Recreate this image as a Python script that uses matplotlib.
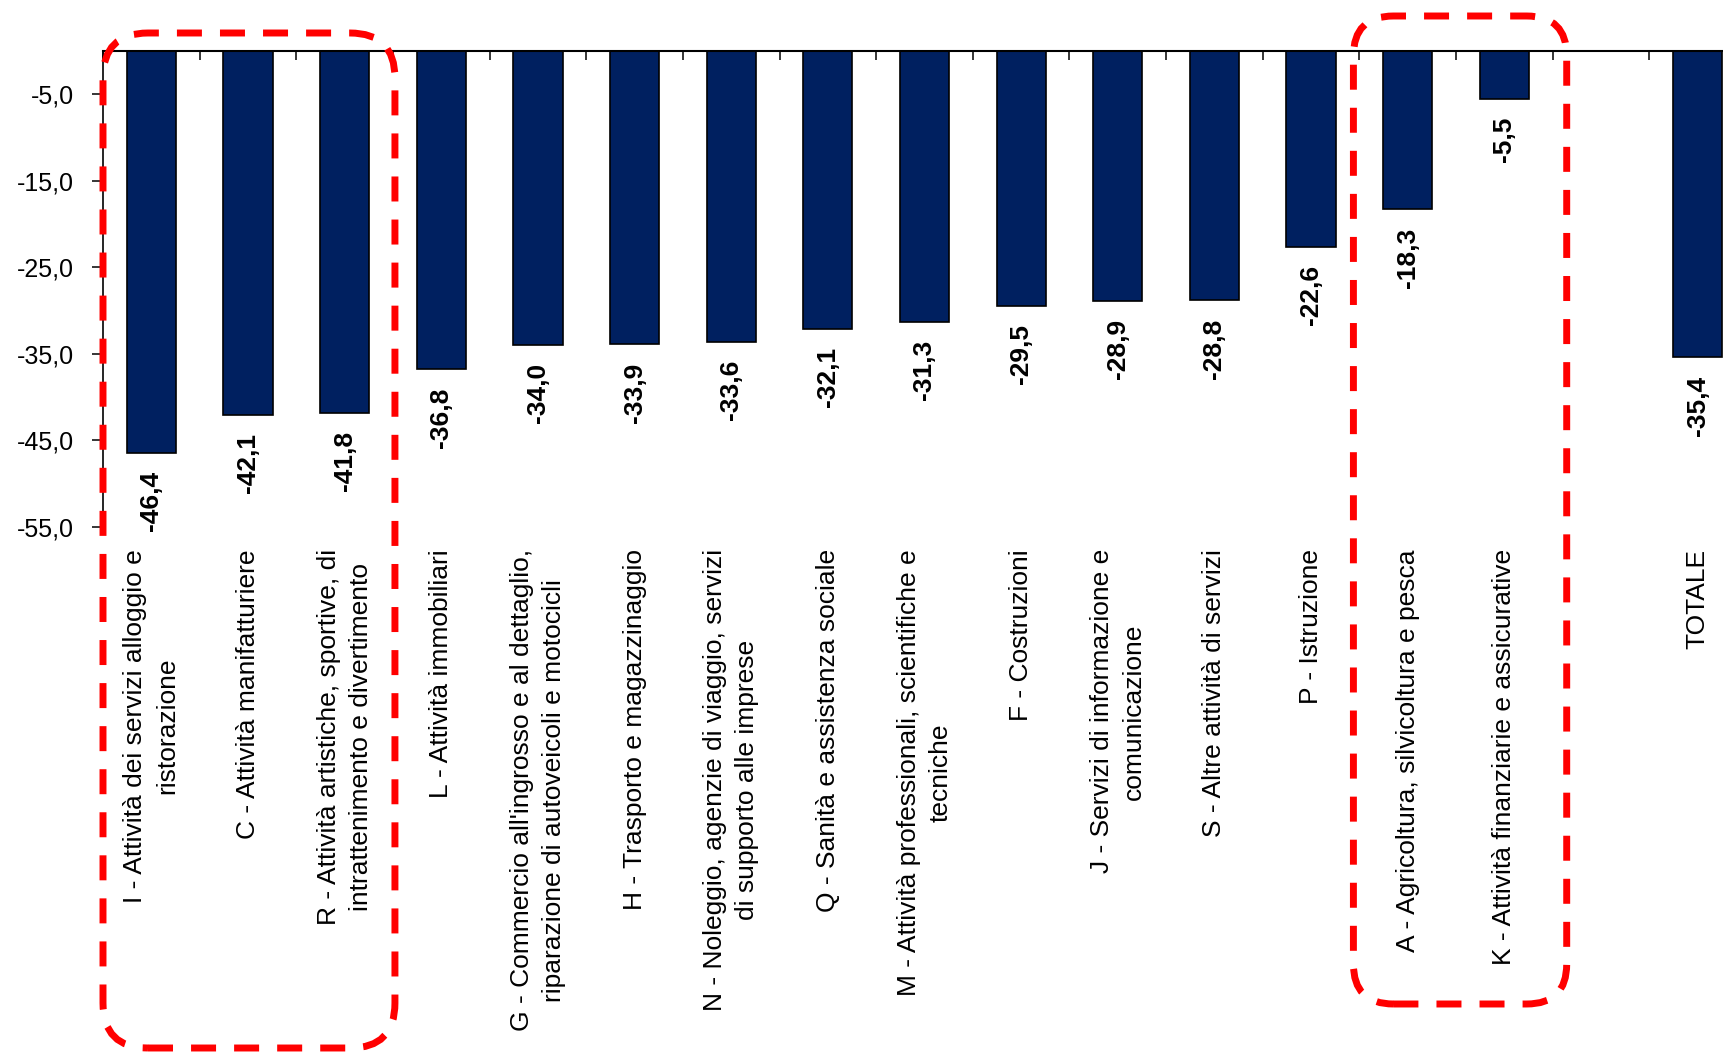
import numpy as np
import matplotlib.pyplot as plt
from matplotlib.patches import FancyBboxPatch
from matplotlib.transforms import IdentityTransform

plt.rcParams['font.family'] = ['Liberation Sans', 'DejaVu Sans']

# Settori (ordine del grafico) e variazioni percentuali
categories = [
    "I - Attività dei servizi alloggio e\nristorazione",
    "C - Attività manifatturiere",
    "R - Attività artistiche, sportive, di\nintrattenimento e divertimento",
    "L - Attività immobiliari",
    "G - Commercio all'ingrosso e al dettaglio,\nriparazione di autoveicoli e motocicli",
    "H - Trasporto e magazzinaggio",
    "N - Noleggio, agenzie di viaggio, servizi\ndi supporto alle imprese",
    "Q - Sanità e assistenza sociale",
    "M - Attività professionali, scientifiche e\ntecniche",
    "F - Costruzioni",
    "J - Servizi di informazione e\ncomunicazione",
    "S - Altre attività di servizi",
    "P - Istruzione",
    "A - Agricoltura, silvicoltura e pesca",
    "K - Attività finanziarie e assicurative",
    "",
    "TOTALE",
]
values = [-46.4, -42.1, -41.8, -36.8, -34.0, -33.9, -33.6, -32.1, -31.3,
          -29.5, -28.9, -28.8, -22.6, -18.3, -5.5, np.nan, -35.4]
yticks = [-5, -15, -25, -35, -45, -55]

# gruppi evidenziati (indici di inizio/fine)
group_left = (0, 2)
group_right = (13, 14)

W, H = 1724, 1053
fig = plt.figure(figsize=(W / 100, H / 100), dpi=100)
ax = fig.add_axes([103 / W, 1 - 527 / H, 1643 / W, 476 / H])

x = np.arange(len(categories))
ax.bar(x, values, width=0.51, color='#002060', edgecolor='black', linewidth=1.2)

for xi, v in zip(x, values):
    if np.isnan(v):
        continue
    ax.annotate(f"{v:.1f}".replace('.', ','), (xi, v), xytext=(0, -13),
                textcoords='offset points', rotation=90, ha='center', va='top',
                fontsize=19, fontweight='bold')

ax.set_xlim(-0.5, len(categories) - 0.5)
ax.set_ylim(-55, 0)
ax.set_yticks(yticks)
ax.set_yticklabels([f"{t:.1f}".replace('.', ',') for t in yticks], fontsize=18)
ax.tick_params(axis='y', direction='out', length=8, width=1.1, pad=13)

ax.set_xticks(x)
ax.set_xticklabels(categories, rotation=90, ha='center', va='top',
                   fontsize=19, linespacing=1.42)
ax.tick_params(axis='x', which='major', length=0, pad=16)
ax.set_xticks(np.arange(-0.5, len(categories), 1), minor=True)
ax.tick_params(axis='x', which='minor', top=True, bottom=False,
               direction='in', length=6.5, width=1.1)

ax.spines['bottom'].set_visible(False)
ax.spines['right'].set_visible(False)
ax.spines['top'].set_linewidth(1.5)
ax.spines['left'].set_linewidth(1.2)

# riquadri tratteggiati rossi attorno ai gruppi
fig.canvas.draw()


def px(xd):
    return ax.transData.transform((xd, 0))[0]


boxes = [
    (px(group_left[0] - 0.5), px(group_left[1] + 0.5) + 2, 5, 1020, 45),
    (px(group_right[0] - 0.5) - 6, px(group_right[1] + 0.5) + 14, 49, 1037, 40),
]
for x0, x1, y0, y1, r in boxes:
    box = FancyBboxPatch((x0, y0), x1 - x0, y1 - y0,
                         boxstyle=f"round,pad=0,rounding_size={r}",
                         transform=IdentityTransform(), fill=False,
                         edgecolor='#ff0000', linewidth=5,
                         linestyle=(0, (3.6, 2.6)), clip_on=False)
    fig.add_artist(box)

fig.savefig('out.png', dpi=100)
